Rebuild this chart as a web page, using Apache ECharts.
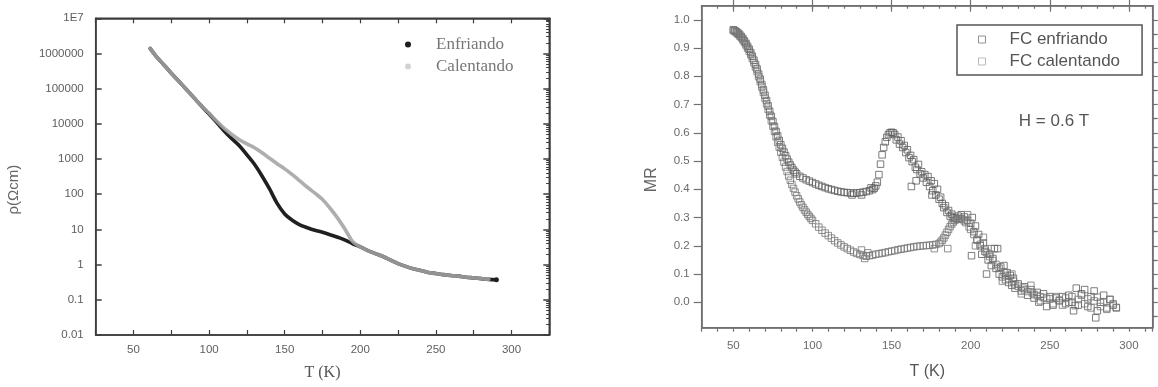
<!DOCTYPE html>
<html>
<head>
<meta charset="utf-8">
<script src="https://cdn.jsdelivr.net/npm/echarts@6/dist/echarts.min.js"></script>
<style>
  html, body { margin: 0; padding: 0; background: #fff; }
  #chart { width: 1158px; height: 387px; }
</style>
</head>
<body>
<div id="chart"></div>
<script>
// ---- Resistivity ρ(T) in Ω·cm, cooling and heating runs ----
const rhoTemps = [61, 65, 70, 75, 80, 85, 90, 95, 100, 105,
  110, 115, 120, 125, 130, 135, 140, 145, 150, 155,
  160, 165, 170, 175, 180, 185, 190, 195, 200, 205,
  210, 215, 220, 225, 230, 235, 240, 245, 250, 255,
  260, 265, 270, 275, 280, 285, 290];
const rhoEnfriando = [1.4e6, 8.3e5, 4.8e5, 2.75e5, 1.62e5, 9.5e4, 5.5e4, 3.2e4, 1.9e4, 1.1e4,
  6300, 3800, 2400, 1320, 710, 330, 141, 55, 27.5, 18.2,
  13.5, 11.2, 9.5, 8.3, 7.1, 6.0, 5.0, 3.9, 3.2, 2.5,
  2.05, 1.70, 1.35, 1.07, 0.89, 0.76, 0.68, 0.60, 0.56, 0.52,
  0.49, 0.47, 0.44, 0.42, 0.40, 0.38, 0.37];
const rhoCalentando = [1.4e6, 8.3e5, 4.8e5, 2.75e5, 1.62e5, 9.5e4, 5.5e4, 3.2e4, 2.0e4, 1.2e4,
  7400, 5000, 3550, 2700, 2100, 1510, 1050, 740, 525, 363,
  240, 158, 107, 71, 40, 21, 10, 4.5, 3.2, 2.5,
  2.05, 1.70, 1.35, 1.07, 0.89, 0.76, 0.68, 0.60, 0.56, 0.52,
  0.49, 0.47, 0.44, 0.42, 0.40, 0.38, 0.37];

// ---- Magnetoresistance MR(T), field-cooled, H = 0.6 T ----
const fcEnfriando = [
  [50,0.965],[51,0.962],[52,0.958],[53,0.953],[54,0.948],[55,0.941],[56,0.934],[57,0.925],[58,0.916],[59,0.906],
  [60,0.896],[61,0.884],[62,0.871],[63,0.857],[64,0.842],[65,0.826],[66,0.808],[67,0.790],[68,0.771],[69,0.752],
  [70,0.733],[71,0.714],[72,0.695],[73,0.676],[74,0.658],[75,0.640],[76,0.622],[77,0.605],[78,0.589],[79,0.573],
  [80,0.558],[81,0.545],[82,0.532],[83,0.519],[84,0.507],[85,0.496],[86,0.486],[87,0.477],[88,0.468],[89,0.461],
  [90,0.455],[92,0.446],[94,0.440],[96,0.434],[98,0.429],[100,0.424],[102,0.419],[104,0.414],[106,0.410],[108,0.406],
  [110,0.402],[112,0.399],[114,0.396],[116,0.393],[118,0.391],[120,0.389],[122,0.388],[124,0.387],[125,0.380],[126,0.386],
  [128,0.387],[130,0.388],[131,0.380],[132,0.390],[134,0.392],[136,0.395],[137,0.405],[138,0.399],[139,0.404],[140,0.412],
  [141,0.425],[142,0.452],[143,0.489],[144,0.522],[145,0.548],[146,0.568],[147,0.584],[148,0.594],[149,0.600],[150,0.602],
  [151,0.600],[152,0.594],[153,0.575],[154,0.585],[155,0.560],[156,0.572],[157,0.548],[158,0.555],[159,0.530],[160,0.540],
  [161,0.512],[162,0.520],[162.5,0.410],[163,0.498],[164,0.505],[165,0.478],[165.5,0.430],[166,0.470],[167,0.488],[168,0.455],
  [169,0.462],[170,0.440],[171,0.452],[172,0.425],[173,0.445],[174,0.410],[175,0.430],[175.5,0.380],[176,0.395],[177,0.420],
  [178,0.380],[179,0.400],[180,0.365],[181,0.372],[182,0.350],[183,0.335],[184,0.342],[185,0.318],[186,0.325],[187,0.305],
  [188,0.312],[189,0.298],[190,0.300],[192,0.305],[194,0.310],[196,0.302],[198,0.290],[200,0.280],[200.5,0.165],[201,0.300],
  [202,0.250],[203,0.270],[204,0.220],[205,0.240],[206,0.200],[207,0.170],[208,0.210],[209,0.180],[210,0.100],[211,0.150],
  [212,0.170],[213,0.130],[214,0.155],[215,0.190],[216,0.120],[217,0.190],[218,0.100],[219,0.125],[220,0.090],[221,0.130],
  [222,0.080],[223,0.105],[224,0.070],[225,0.095],[226,0.060],[227,0.085],[228,0.050],[230,0.065],[232,0.040],[234,0.055],
  [236,0.025],[238,0.045],[240,0.015],[242,0.035],[244,0.005],[246,0.030],[248,-0.015],[250,0.020],[252,-0.010],[254,0.015],
  [256,0.005],[258,0.020],[260,-0.005],[262,0.025],[264,0.000],[265,-0.030],[266.7,0.050],[268,-0.010],[270,0.030],[272,0.045],
  [274,-0.015],[276,0.020],[278,0.040],[279,-0.055],[280,-0.030],[282,0.000],[284,0.025],[286,-0.020],[288,0.010],[290,-0.010],
  [292,-0.020]
];
const fcCalentando = [
  [50,0.962],[51,0.958],[52,0.954],[53,0.949],[54,0.943],[55,0.937],[56,0.929],[57,0.921],[58,0.911],[59,0.900],
  [60,0.889],[61,0.877],[62,0.863],[63,0.849],[64,0.833],[65,0.817],[66,0.799],[67,0.781],[68,0.762],[69,0.743],
  [70,0.723],[71,0.703],[72,0.683],[73,0.663],[74,0.643],[75,0.624],[76,0.605],[77,0.586],[78,0.567],[79,0.549],
  [80,0.531],[81,0.513],[82,0.496],[83,0.479],[84,0.463],[85,0.447],[86,0.432],[87,0.417],[88,0.403],[89,0.390],
  [90,0.377],[91,0.366],[92,0.355],[93,0.345],[94,0.336],[95,0.327],[96,0.319],[97,0.311],[98,0.304],[99,0.297],
  [100,0.290],[102,0.278],[104,0.266],[106,0.255],[108,0.245],[110,0.236],[112,0.227],[114,0.218],[116,0.210],[118,0.203],
  [120,0.196],[122,0.190],[124,0.184],[126,0.178],[128,0.173],[130,0.169],[131,0.185],[132,0.166],[133,0.155],[134,0.163],
  [135,0.175],[136,0.165],[138,0.167],[140,0.170],[142,0.172],[144,0.174],[146,0.176],[148,0.179],[150,0.181],[152,0.183],
  [154,0.186],[156,0.188],[158,0.190],[160,0.192],[162,0.194],[164,0.196],[166,0.198],[168,0.199],[170,0.200],[172,0.201],
  [174,0.202],[176,0.203],[177,0.190],[178,0.205],[180,0.208],[181,0.213],[182,0.220],[183,0.228],[184,0.238],[185,0.248],
  [185.5,0.190],[186,0.258],[187,0.268],[188,0.277],[189,0.284],[190,0.290],[191,0.294],[192,0.296],[193,0.297],[194,0.296],
  [195,0.293],[196,0.288],[197,0.282],[198,0.310],[199,0.267],[200,0.258],[202,0.240],[203,0.200],[204,0.222],[206,0.205],
  [208,0.230],[209,0.190],[210,0.176],[212,0.162],[213,0.190],[214,0.148],[216,0.134],[218,0.120],[220,0.075],[221,0.107],
  [222,0.095],[224,0.084],[226,0.100],[227,0.074],[228,0.065],[230,0.057],[232,0.030],[233,0.050],[234,0.044],[236,0.038],
  [238,0.060],[239,0.033],[240,0.028],[242,0.024],[243,0.000],[244,0.020],[246,0.017],[248,0.014],[250,0.012],[252,-0.005],
  [254,0.020],[256,0.008],[258,-0.010],[260,0.015],[262,0.000],[264,0.020],[266,-0.012],[268,0.010],[270,0.025],[272,-0.005],
  [274,0.012],[276,-0.020],[278,0.005],[280,0.018],[282,-0.015],[284,0.000],[286,-0.025],[288,0.010],[290,-0.005],[292,-0.018]
];

// ---- Tick labels ----
const rhoTickLabels = ['0.01', '0.1', '1', '10', '100', '1000', '10000', '100000', '1000000', '1E7'];
const tempLabelsLeft = [50, 100, 150, 200, 250, 300];
const tempLabelsRight = [50, 100, 150, 200, 250, 300];
const mrLabels = [0, 0.1, 0.2, 0.3, 0.4, 0.5, 0.6, 0.7, 0.8, 0.9, 1.0];
const mrMinorTicks = [-0.05, 0.05, 0.15, 0.25, 0.35, 0.45, 0.55, 0.65, 0.75, 0.85, 0.95];
const mrAllTicks = [-0.05, 0, 0.05, 0.1, 0.15, 0.2, 0.25, 0.3, 0.35, 0.4, 0.45, 0.5,
  0.55, 0.6, 0.65, 0.7, 0.75, 0.8, 0.85, 0.9, 0.95, 1.0];

// log-decade minor tick positions (2..9 × 10^n), expressed as exponents
const logMinorExp = [];
for (let d = -2; d < 7; d++) for (let k = 2; k <= 9; k++) logMinorExp.push(d + Math.log10(k));

const SANS = 'Liberation Sans';
const SERIF = 'Liberation Serif';
const leftAxisColor = '#3c3c3c';
const rightAxisColor = '#707070';

const chart = echarts.init(document.getElementById('chart'), null, { renderer: 'canvas' });

const hidden = { show: false };
const leftTickLabel = { fontFamily: SANS, fontSize: 11.5, color: '#5e5e5e' };
const rightTickLabel = { fontFamily: SANS, fontSize: 11.5, color: '#6a6a6a' };

function line(color, width) {
  return { show: true, onZero: false, lineStyle: { color: color, width: width } };
}
const noLine = { show: false, onZero: false };

const option = {
  animation: false,
  backgroundColor: '#fff',
  grid: [
    { left: 95.7, right: 608.7, top: 18.3, bottom: 52, show: true, borderColor: leftAxisColor, borderWidth: 1.5, outerBoundsMode: 'none' },
    { left: 701.7, right: 5.3, top: 5.7, bottom: 59.3, show: true, borderColor: rightAxisColor, borderWidth: 1.5, outerBoundsMode: 'none' }
  ],
  legend: [
    {
      orient: 'vertical', left: 405, top: 36, padding: 0, itemGap: 5,
      itemWidth: 6, itemHeight: 6, selectedMode: false,
      textStyle: { fontFamily: SERIF, fontSize: 17, color: '#777', padding: [0, 0, 0, 20] },
      data: [
        { name: 'Enfriando', icon: 'circle', itemStyle: { color: '#1c1c1c', borderWidth: 0 } },
        { name: 'Calentando', icon: 'circle', itemStyle: { color: '#d2d2d2', borderWidth: 0 } }
      ]
    },
    {
      orient: 'vertical', left: 957, top: 25, padding: [6, 22, 5, 21], itemGap: 5,
      itemWidth: 7, itemHeight: 7, selectedMode: false,
      borderColor: '#555', borderWidth: 1.5,
      textStyle: { fontFamily: SANS, fontSize: 17, color: '#555', padding: [0, 0, 0, 19] },
      data: [
        { name: 'FC enfriando', icon: 'rect', itemStyle: { color: 'rgba(0,0,0,0)', borderColor: '#777', borderWidth: 1 } },
        { name: 'FC calentando', icon: 'rect', itemStyle: { color: 'rgba(0,0,0,0)', borderColor: '#aaa', borderWidth: 1 } }
      ]
    }
  ],
  graphic: [
    {
      type: 'text', x: 1054, y: 121,
      style: { text: 'H = 0.6 T', font: '17px "Liberation Sans"', fill: '#555', align: 'center', verticalAlign: 'middle' }
    }
  ],
  xAxis: [
    // left panel, bottom
    {
      gridIndex: 0, type: 'value', min: 25, max: 325, interval: 25,
      axisLine: line(leftAxisColor, 1.5),
      axisTick: { inside: true, length: 5, lineStyle: { color: leftAxisColor, width: 1.2 } },
      axisLabel: Object.assign({ customValues: tempLabelsLeft, margin: 9 }, leftTickLabel),
      splitLine: hidden,
      name: 'T (K)', nameLocation: 'middle', nameGap: 30,
      nameTextStyle: { fontFamily: SERIF, fontSize: 16, color: '#555' }
    },
    // left panel, top
    {
      gridIndex: 0, type: 'value', position: 'top', min: 25, max: 325, interval: 25,
      axisLine: line(leftAxisColor, 1.5),
      axisTick: { inside: true, length: 5, lineStyle: { color: leftAxisColor, width: 1.2 } },
      axisLabel: hidden, splitLine: hidden
    },
    // right panel, bottom (minor ticks + labels)
    {
      gridIndex: 1, type: 'value', min: 30, max: 315, interval: 10,
      axisLine: line(rightAxisColor, 1.5),
      axisTick: { inside: false, length: 4, lineStyle: { color: rightAxisColor, width: 1.2 } },
      axisLabel: Object.assign({ customValues: tempLabelsRight, margin: 12 }, rightTickLabel),
      splitLine: hidden,
      name: 'T (K)', nameLocation: 'middle', nameGap: 36,
      nameTextStyle: { fontFamily: SANS, fontSize: 16, color: '#555' }
    },
    // right panel, bottom major ticks
    {
      gridIndex: 1, type: 'value', min: 30, max: 315,
      axisLine: noLine, axisLabel: hidden, splitLine: hidden,
      axisTick: { inside: false, length: 7, customValues: tempLabelsRight, lineStyle: { color: rightAxisColor, width: 1.2 } }
    },
    // right panel, top
    {
      gridIndex: 1, type: 'value', position: 'top', min: 30, max: 315, interval: 10,
      axisLine: line(rightAxisColor, 1.5),
      axisTick: { inside: true, length: 3, lineStyle: { color: rightAxisColor, width: 1.2 } },
      axisLabel: hidden, splitLine: hidden
    },
    {
      gridIndex: 1, type: 'value', position: 'top', min: 30, max: 315,
      axisLine: noLine, axisLabel: hidden, splitLine: hidden,
      axisTick: { inside: true, length: 6, customValues: tempLabelsRight, lineStyle: { color: rightAxisColor, width: 1.2 } }
    }
  ],
  yAxis: [
    // left panel, log resistivity axis
    {
      gridIndex: 0, type: 'log', logBase: 10, min: 0.01, max: 1e7, interval: 1,
      axisLine: line(leftAxisColor, 1.5),
      axisTick: { inside: true, length: 6, lineStyle: { color: leftAxisColor, width: 1.5 } },
      axisLabel: Object.assign({
        margin: 12,
        formatter: function (v) {
          const e = Math.round(Math.log10(v));
          return rhoTickLabels[e + 2];
        }
      }, leftTickLabel),
      splitLine: hidden, minorTick: hidden,
      name: 'ρ(Ωcm)', nameLocation: 'middle', nameGap: 74,
      nameTextStyle: { fontFamily: SANS, fontSize: 15, color: '#666', padding: [0, 26, 0, 0] }
    },
    {
      gridIndex: 0, type: 'value', min: -2, max: 7,
      axisLine: noLine, axisLabel: hidden, splitLine: hidden,
      axisTick: { inside: true, length: 3, customValues: logMinorExp, lineStyle: { color: leftAxisColor, width: 1 } }
    },
    {
      gridIndex: 0, type: 'log', logBase: 10, position: 'right', min: 0.01, max: 1e7, interval: 1,
      axisLine: line(leftAxisColor, 1.5),
      axisTick: { inside: true, length: 6, lineStyle: { color: leftAxisColor, width: 1.5 } },
      axisLabel: hidden, splitLine: hidden
    },
    {
      gridIndex: 0, type: 'value', position: 'right', min: -2, max: 7,
      axisLine: noLine, axisLabel: hidden, splitLine: hidden,
      axisTick: { inside: true, length: 3, customValues: logMinorExp, lineStyle: { color: leftAxisColor, width: 1 } }
    },
    // right panel, MR axis
    {
      gridIndex: 1, type: 'value', min: -0.09, max: 1.05,
      axisLine: line(rightAxisColor, 1.5),
      axisTick: { inside: false, length: 8, customValues: mrLabels, lineStyle: { color: rightAxisColor, width: 1.2 } },
      axisLabel: Object.assign({
        customValues: mrLabels, margin: 12,
        formatter: function (v) { return Number(v).toFixed(1); }
      }, rightTickLabel),
      splitLine: hidden,
      name: 'MR', nameLocation: 'middle', nameGap: 42,
      nameTextStyle: { fontFamily: SANS, fontSize: 16, color: '#666', padding: [0, 26, 0, 0] }
    },
    {
      gridIndex: 1, type: 'value', min: -0.09, max: 1.05,
      axisLine: noLine, axisLabel: hidden, splitLine: hidden,
      axisTick: { inside: false, length: 4, customValues: mrMinorTicks, lineStyle: { color: rightAxisColor, width: 1.2 } }
    },
    {
      gridIndex: 1, type: 'value', position: 'right', min: -0.09, max: 1.05,
      axisLine: line(rightAxisColor, 1.5),
      axisLabel: hidden, splitLine: hidden,
      axisTick: { inside: false, length: 5, customValues: mrAllTicks, lineStyle: { color: rightAxisColor, width: 1.2 } }
    }
  ],
  series: [
    {
      name: 'Enfriando', type: 'line', xAxisIndex: 0, yAxisIndex: 0,
      smooth: 0.35, symbol: 'none', showSymbol: true, z: 2,
      lineStyle: { color: '#202020', width: 3.6, cap: 'round' },
      itemStyle: { color: '#202020' },
      data: rhoTemps.map(function (t, i) {
        const item = { value: [t, rhoEnfriando[i]] };
        if (i === rhoTemps.length - 1) { item.symbol = 'circle'; item.symbolSize = 5; }
        return item;
      })
    },
    {
      name: 'Calentando', type: 'line', xAxisIndex: 0, yAxisIndex: 0,
      smooth: 0.35, symbol: 'none', z: 3,
      lineStyle: { color: '#a3a3a3', width: 3.6, opacity: 0.88, cap: 'round' },
      itemStyle: { color: '#d2d2d2' },
      data: rhoTemps.slice(0, -1).map(function (t, i) { return [t, rhoCalentando[i]]; })
    },
    {
      name: 'FC enfriando', type: 'scatter', xAxisIndex: 2, yAxisIndex: 4,
      symbol: 'rect', symbolSize: 6.5,
      itemStyle: { color: 'rgba(0,0,0,0)', borderColor: '#5c5c5c', borderWidth: 1 },
      data: fcEnfriando
    },
    {
      name: 'FC calentando', type: 'scatter', xAxisIndex: 2, yAxisIndex: 4,
      symbol: 'rect', symbolSize: 6.5,
      itemStyle: { color: 'rgba(0,0,0,0)', borderColor: '#767676', borderWidth: 1 },
      data: fcCalentando
    }
  ]
};

chart.setOption(option);
</script>
</body>
</html>
